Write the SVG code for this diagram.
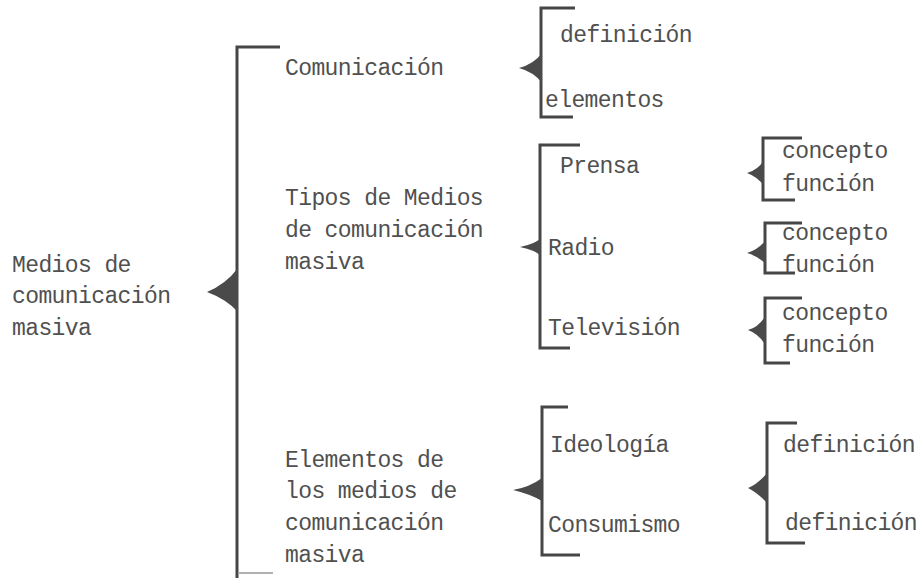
<svg xmlns="http://www.w3.org/2000/svg" width="917" height="578" viewBox="0 0 917 578">
<style>
text{font-family:"Liberation Mono","Courier New",monospace;font-size:23px;letter-spacing:-0.6px;fill:#505050;}
.br{fill:none;stroke:#464646;stroke-width:3;}
.tri{fill:#4a4a4a;}
</style>
<rect width="917" height="578" fill="#ffffff"/>
<g id="connectors">
<path class="br" d="M280,47 H237 V578"/>
<path d="M238,573 H273" stroke="#b0b0b0" stroke-width="2" fill="none"/>
<path class="tri" d="M238,268 Q226,284 207,292 Q226,299 238,312 Z"/>
<path class="br" d="M575,8 H541 V117 H573"/>
<path class="tri" d="M542,53 Q534,64 519,68 Q534,72 542,83 Z"/>
<path class="br" d="M580,145 H540 V348 H570"/>
<path class="tri" d="M541,238 Q535,244 520,247 Q535,250 541,256 Z"/>
<path class="br" d="M802,138 H763 V200 H795"/>
<path class="tri" d="M764,160 Q758,170 747,173 Q758,177 764,186 Z"/>
<path class="br" d="M802,223 H765 V273 H795"/>
<path class="tri" d="M766,240 Q758,250 747,253 Q758,256 766,264 Z"/>
<path class="br" d="M802,298 H765 V363 H790"/>
<path class="tri" d="M766,315 Q759,327 748,330 Q759,334 766,346 Z"/>
<path class="br" d="M568,407 H542 V555 H580"/>
<path class="tri" d="M542,478 Q530,487 513,490 Q530,494 542,501 Z"/>
<path class="br" d="M797,423 H767 V543 H805"/>
<path class="tri" d="M768,472 Q758,484 748,488 Q758,493 768,504 Z"/>
</g>
<g id="root"><text x="12" y="272">Medios de</text><text x="12" y="303">comunicación</text><text x="12" y="335">masiva</text></g>
<g id="comunicacion"><text x="285" y="75">Comunicación</text></g>
<g id="tipos"><text x="285" y="205">Tipos de Medios</text><text x="285" y="237">de comunicación</text><text x="285" y="269">masiva</text></g>
<g id="elementos"><text x="285" y="467">Elementos de</text><text x="285" y="498">los medios de</text><text x="285" y="530">comunicación</text><text x="285" y="562">masiva</text></g>
<g id="com-definicion"><text x="560" y="42">definición</text></g>
<g id="com-elementos"><text x="545" y="107">elementos</text></g>
<g id="prensa"><text x="560" y="173">Prensa</text></g>
<g id="radio"><text x="548" y="255">Radio</text></g>
<g id="television"><text x="548" y="335">Televisión</text></g>
<g id="prensa-concepto"><text x="782" y="158">concepto</text></g>
<g id="prensa-funcion"><text x="782" y="191">función</text></g>
<g id="radio-concepto"><text x="782" y="240">concepto</text></g>
<g id="radio-funcion"><text x="782" y="272">función</text></g>
<g id="tv-concepto"><text x="782" y="320">concepto</text></g>
<g id="tv-funcion"><text x="782" y="352">función</text></g>
<g id="ideologia"><text x="550" y="452">Ideología</text></g>
<g id="consumismo"><text x="548" y="532">Consumismo</text></g>
<g id="ideologia-definicion"><text x="783" y="452">definición</text></g>
<g id="consumismo-definicion"><text x="785" y="530">definición</text></g>
</svg>
